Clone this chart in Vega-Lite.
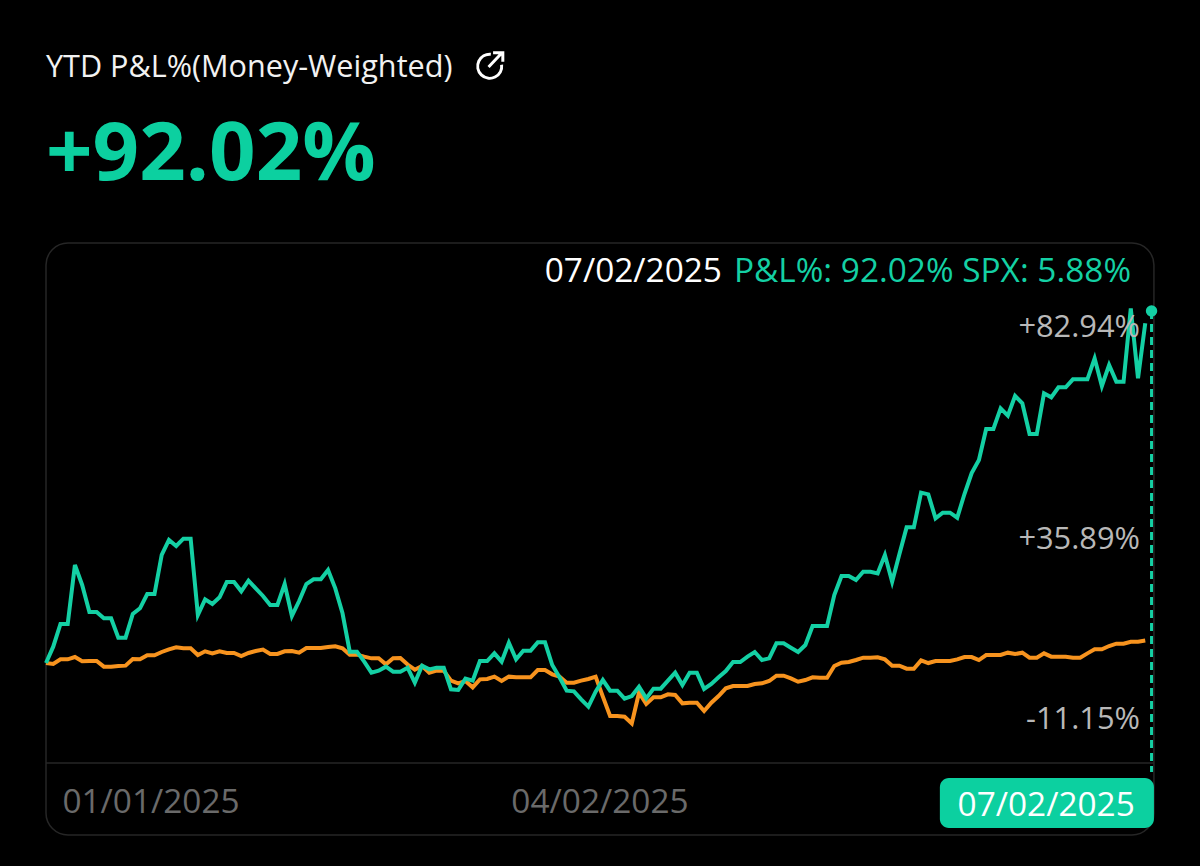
{
  "$schema": "https://vega.github.io/schema/vega-lite/v6.json",
  "background": "#000000",
  "autosize": {"type": "fit", "contains": "padding"},
  "padding": 0,
  "width": 1200,
  "height": 866,
  "view": {"stroke": null},
  "config": {"font": "Open Sans"},
  "data": {
    "values": [
      {"i":0,"pnl":0,"spx":0},{"i":1,"pnl":4.27,"spx":-0.26},{"i":2,"pnl":10.2,"spx":0.96},{"i":3,"pnl":10.2,"spx":0.96},{"i":4,"pnl":25.62,"spx":1.57},{"i":5,"pnl":20.4,"spx":0.44},{"i":6,"pnl":13.34,"spx":0.53},{"i":7,"pnl":13.34,"spx":0.53},{"i":8,"pnl":11.68,"spx":-0.96},{"i":9,"pnl":11.68,"spx":-0.96},
      {"i":10,"pnl":6.63,"spx":-0.78},{"i":11,"pnl":6.63,"spx":-0.69},{"i":12,"pnl":12.81,"spx":1.05},{"i":13,"pnl":14.3,"spx":0.96},{"i":14,"pnl":18.04,"spx":2.01},{"i":15,"pnl":18.04,"spx":2.01},{"i":16,"pnl":28.24,"spx":2.88},{"i":17,"pnl":32.16,"spx":3.58},{"i":18,"pnl":30.59,"spx":4.1},{"i":19,"pnl":32.51,"spx":3.84},
      {"i":20,"pnl":32.51,"spx":3.84},{"i":21,"pnl":12.55,"spx":2.09},{"i":22,"pnl":16.65,"spx":3.05},{"i":23,"pnl":15.43,"spx":2.53},{"i":24,"pnl":17.17,"spx":3.05},{"i":25,"pnl":21.18,"spx":2.62},{"i":26,"pnl":21.18,"spx":2.62},{"i":27,"pnl":18.74,"spx":1.83},{"i":28,"pnl":21.53,"spx":2.62},{"i":29,"pnl":19.52,"spx":3.14},
      {"i":30,"pnl":17.52,"spx":3.49},{"i":31,"pnl":15.17,"spx":2.36},{"i":32,"pnl":15.17,"spx":2.36},{"i":33,"pnl":20.66,"spx":3.05},{"i":34,"pnl":12.29,"spx":3.14},{"i":35,"pnl":16.21,"spx":2.7},{"i":36,"pnl":20.66,"spx":3.92},{"i":37,"pnl":21.88,"spx":3.92},{"i":38,"pnl":21.88,"spx":3.92},{"i":39,"pnl":24.32,"spx":4.19},
      {"i":40,"pnl":19.52,"spx":4.36},{"i":41,"pnl":12.99,"spx":3.84},{"i":42,"pnl":2.97,"spx":2.18},{"i":43,"pnl":2.97,"spx":2.18},{"i":44,"pnl":0.35,"spx":1.66},{"i":45,"pnl":-2.52,"spx":1.22},{"i":46,"pnl":-2,"spx":1.22},{"i":47,"pnl":-0.96,"spx":-0.35},{"i":48,"pnl":-2.26,"spx":1.22},{"i":49,"pnl":-2.26,"spx":1.3},
      {"i":50,"pnl":-1.22,"spx":-0.4},{"i":51,"pnl":-5.14,"spx":-1.75},{"i":52,"pnl":-0.7,"spx":-0.79},{"i":53,"pnl":-1.66,"spx":-2.53},{"i":54,"pnl":-1.22,"spx":-2.01},{"i":55,"pnl":-1.22,"spx":-2.01},{"i":56,"pnl":-6.89,"spx":-4.62},{"i":57,"pnl":-7.06,"spx":-5.32},{"i":58,"pnl":-4.1,"spx":-4.71},{"i":59,"pnl":-4.62,"spx":-6.36},
      {"i":60,"pnl":0.52,"spx":-4.27},{"i":61,"pnl":0.52,"spx":-4.18},{"i":62,"pnl":2.53,"spx":-3.57},{"i":63,"pnl":0.35,"spx":-4.71},{"i":64,"pnl":5.31,"spx":-3.57},{"i":65,"pnl":0.96,"spx":-3.75},{"i":66,"pnl":3.22,"spx":-3.75},{"i":67,"pnl":3.22,"spx":-3.75},{"i":68,"pnl":5.4,"spx":-1.83},{"i":69,"pnl":5.4,"spx":-1.83},
      {"i":70,"pnl":-0.52,"spx":-2.96},{"i":71,"pnl":-3.75,"spx":-3.57},{"i":72,"pnl":-7.23,"spx":-5.14},{"i":73,"pnl":-7.41,"spx":-5.14},{"i":74,"pnl":-9.5,"spx":-4.62},{"i":75,"pnl":-11.42,"spx":-4.18},{"i":76,"pnl":-7.5,"spx":-3.57},{"i":77,"pnl":-4.45,"spx":-8.8},{"i":78,"pnl":-7.23,"spx":-13.86},{"i":79,"pnl":-7.23,"spx":-13.86},
      {"i":80,"pnl":-9.33,"spx":-14.03},{"i":81,"pnl":-8.63,"spx":-15.78},{"i":82,"pnl":-6.19,"spx":-7.76},{"i":83,"pnl":-9.24,"spx":-10.72},{"i":84,"pnl":-6.71,"spx":-8.98},{"i":85,"pnl":-6.71,"spx":-8.98},{"i":86,"pnl":-4.62,"spx":-8.19},{"i":87,"pnl":-2.53,"spx":-8.37},{"i":88,"pnl":-5.75,"spx":-10.55},{"i":89,"pnl":-2.53,"spx":-10.37},
      {"i":90,"pnl":-2.53,"spx":-10.37},{"i":91,"pnl":-6.8,"spx":-12.55},{"i":92,"pnl":-5.49,"spx":-10.37},{"i":93,"pnl":-3.75,"spx":-8.63},{"i":94,"pnl":-2.09,"spx":-6.62},{"i":95,"pnl":0.26,"spx":-6.01},{"i":96,"pnl":0.26,"spx":-6.01},{"i":97,"pnl":1.65,"spx":-6.01},{"i":98,"pnl":2.87,"spx":-5.49},{"i":99,"pnl":0.78,"spx":-5.32},
      {"i":100,"pnl":1.22,"spx":-4.71},{"i":101,"pnl":5.14,"spx":-3.31},{"i":102,"pnl":5.14,"spx":-3.32},{"i":103,"pnl":4,"spx":-4.01},{"i":104,"pnl":2.87,"spx":-4.89},{"i":105,"pnl":4.7,"spx":-4.45},{"i":106,"pnl":9.67,"spx":-3.75},{"i":107,"pnl":9.67,"spx":-3.84},{"i":108,"pnl":9.67,"spx":-3.84},{"i":109,"pnl":17.77,"spx":-0.79},
      {"i":110,"pnl":22.74,"spx":0.08},{"i":111,"pnl":22.74,"spx":0.26},{"i":112,"pnl":21.69,"spx":0.78},{"i":113,"pnl":23.87,"spx":1.39},{"i":114,"pnl":23.87,"spx":1.39},{"i":115,"pnl":23.44,"spx":1.48},{"i":116,"pnl":28.23,"spx":0.95},{"i":117,"pnl":21.26,"spx":-0.7},{"i":118,"pnl":28.41,"spx":-0.7},{"i":119,"pnl":35.46,"spx":-1.49},
      {"i":120,"pnl":35.46,"spx":-1.49},{"i":121,"pnl":44.53,"spx":0.69},{"i":122,"pnl":44.09,"spx":-0.01},{"i":123,"pnl":37.82,"spx":0.52},{"i":124,"pnl":39.3,"spx":0.52},{"i":125,"pnl":39.3,"spx":0.52},{"i":126,"pnl":37.99,"spx":0.95},{"i":127,"pnl":44.18,"spx":1.56},{"i":128,"pnl":49.67,"spx":1.56},{"i":129,"pnl":53.07,"spx":0.78},
      {"i":130,"pnl":61.18,"spx":2.09},{"i":131,"pnl":61.18,"spx":2.09},{"i":132,"pnl":66.58,"spx":2.09},{"i":133,"pnl":64.66,"spx":2.7},{"i":134,"pnl":69.8,"spx":2.35},{"i":135,"pnl":67.89,"spx":2.7},{"i":136,"pnl":59.87,"spx":1.39},{"i":137,"pnl":59.87,"spx":1.39},{"i":138,"pnl":70.5,"spx":2.52},{"i":139,"pnl":69.46,"spx":1.65},
      {"i":140,"pnl":72.07,"spx":1.65},{"i":141,"pnl":72.07,"spx":1.65},{"i":142,"pnl":74.16,"spx":1.39},{"i":143,"pnl":74.16,"spx":1.39},{"i":144,"pnl":74.16,"spx":2.52},{"i":145,"pnl":79.65,"spx":3.57},{"i":146,"pnl":72.42,"spx":3.57},{"i":147,"pnl":77.91,"spx":4.44},{"i":148,"pnl":73.55,"spx":5.05},{"i":149,"pnl":73.55,"spx":5.05},
      {"i":150,"pnl":92.72,"spx":5.57},{"i":151,"pnl":74.42,"spx":5.57},{"i":152,"pnl":88.8,"spx":5.88}
    ]
  },
  "layer": [
    {
      "data": {"values": [{"card": "frame"}]},
      "mark": {"type": "rect", "fill": null, "stroke": "#262626", "strokeWidth": 1.5, "cornerRadius": 22},
      "encoding": {
        "x": {"datum": 0, "scale": {"domain": [-6.361, 159.57], "nice": false, "zero": false}, "axis": null},
        "x2": {"datum": 153.2},
        "y": {"datum": 109.8, "scale": {"domain": [-53.07, 173.33], "nice": false, "zero": false}, "axis": null},
        "y2": {"datum": -44.97}
      }
    },
    {
      "data": {"values": [{"card": "baseline"}]},
      "mark": {"type": "rule", "color": "#262626", "strokeWidth": 1.5},
      "encoding": {
        "y": {"datum": -26.14},
        "x": {"datum": 0},
        "x2": {"datum": 153.2}
      }
    },
    {
      "mark": {"type": "line", "color": "#f7931e", "strokeWidth": 4, "strokeJoin": "miter"},
      "encoding": {
        "x": {"field": "i", "type": "quantitative"},
        "y": {"field": "spx", "type": "quantitative"}
      }
    },
    {
      "mark": {"type": "line", "color": "#14d0a4", "strokeWidth": 4, "strokeJoin": "miter"},
      "encoding": {
        "x": {"field": "i", "type": "quantitative"},
        "y": {"field": "pnl", "type": "quantitative"}
      }
    },
    {
      "data": {"values": [{"label": "+82.94%", "at": 87.6}, {"label": "+35.89%", "at": 32.2}, {"label": "-11.15%", "at": -14.9}]},
      "mark": {"type": "text", "align": "right", "baseline": "middle", "font": "Open Sans", "fontSize": 30.8, "color": "#b8b8b8"},
      "encoding": {
        "x": {"datum": 151.27},
        "y": {"field": "at", "type": "quantitative"},
        "text": {"field": "label"}
      }
    },
    {
      "data": {"values": [{"tip": 92.02}]},
      "mark": {"type": "rule", "color": "#14d0a4", "strokeWidth": 3, "strokeDash": [8, 5]},
      "encoding": {
        "x": {"datum": 152.87},
        "y": {"field": "tip", "type": "quantitative"},
        "y2": {"datum": -28.5}
      }
    },
    {
      "data": {"values": [{"tip": 92.02}]},
      "mark": {"type": "point", "filled": true, "size": 130, "color": "#14d0a4", "opacity": 1},
      "encoding": {
        "x": {"datum": 152.87},
        "y": {"field": "tip", "type": "quantitative"}
      }
    },
    {
      "data": {"values": [{"label": "07/02/2025"}]},
      "mark": {"type": "text", "align": "right", "baseline": "middle", "font": "Open Sans", "fontSize": 33.4, "color": "#ffffff"},
      "encoding": {
        "x": {"datum": 93.47},
        "y": {"datum": 102.2},
        "text": {"field": "label"}
      }
    },
    {
      "data": {"values": [{"label": "P&L%: 92.02% SPX: 5.88%"}]},
      "mark": {"type": "text", "align": "right", "baseline": "middle", "font": "Open Sans", "fontSize": 33.4, "color": "#14d0a4"},
      "encoding": {
        "x": {"datum": 150.03},
        "y": {"datum": 102.2},
        "text": {"field": "label"}
      }
    },
    {
      "data": {"values": [{"label": "01/01/2025", "at": 14.52}, {"label": "04/02/2025", "at": 76.6}]},
      "mark": {"type": "text", "align": "center", "baseline": "middle", "font": "Open Sans", "fontSize": 33.4, "color": "#6a6a6a"},
      "encoding": {
        "x": {"field": "at", "type": "quantitative"},
        "y": {"datum": -36.6},
        "text": {"field": "label"}
      }
    },
    {
      "data": {"values": [{"label": "07/02/2025"}]},
      "mark": {"type": "rect", "color": "#0cd0a0", "cornerRadius": 9},
      "encoding": {
        "x": {"datum": 123.6},
        "x2": {"datum": 153.2},
        "y": {"datum": -30.07},
        "y2": {"datum": -43.14}
      }
    },
    {
      "data": {"values": [{"label": "07/02/2025"}]},
      "mark": {"type": "text", "align": "center", "baseline": "middle", "font": "Open Sans", "fontSize": 33.4, "color": "#ffffff"},
      "encoding": {
        "x": {"datum": 138.3},
        "y": {"datum": -37.3},
        "text": {"field": "label"}
      }
    },
    {
      "data": {"values": [{"label": "YTD P&L%(Money-Weighted)"}]},
      "mark": {"type": "text", "align": "left", "baseline": "middle", "font": "Open Sans", "fontSize": 30.6, "color": "#f2f2f2"},
      "encoding": {
        "x": {"datum": 0},
        "y": {"datum": 155.6},
        "text": {"field": "label"}
      }
    },
    {
      "data": {"values": [{"label": "+92.02%"}]},
      "mark": {"type": "text", "align": "left", "baseline": "middle", "font": "Open Sans", "fontSize": 81.5, "fontWeight": "bold", "color": "#0cd0a0"},
      "encoding": {
        "x": {"datum": 0},
        "y": {"datum": 132.55},
        "text": {"field": "label"}
      }
    },
    {
      "data": {"values": [{"icon": "share"}]},
      "mark": {
        "type": "point",
        "filled": false,
        "size": 900,
        "color": "#ffffff",
        "opacity": 1,
        "strokeWidth": 3,
        "shape": "M0.1,-0.8 A0.8,0.8 0 1 0 0.82,-0.1 M-0.05,0.05 L0.8,-0.85 M0.25,-0.9 L0.9,-0.9 L0.9,-0.3"
      },
      "encoding": {
        "x": {"datum": 61.3},
        "y": {"datum": 156}
      }
    }
  ]
}
